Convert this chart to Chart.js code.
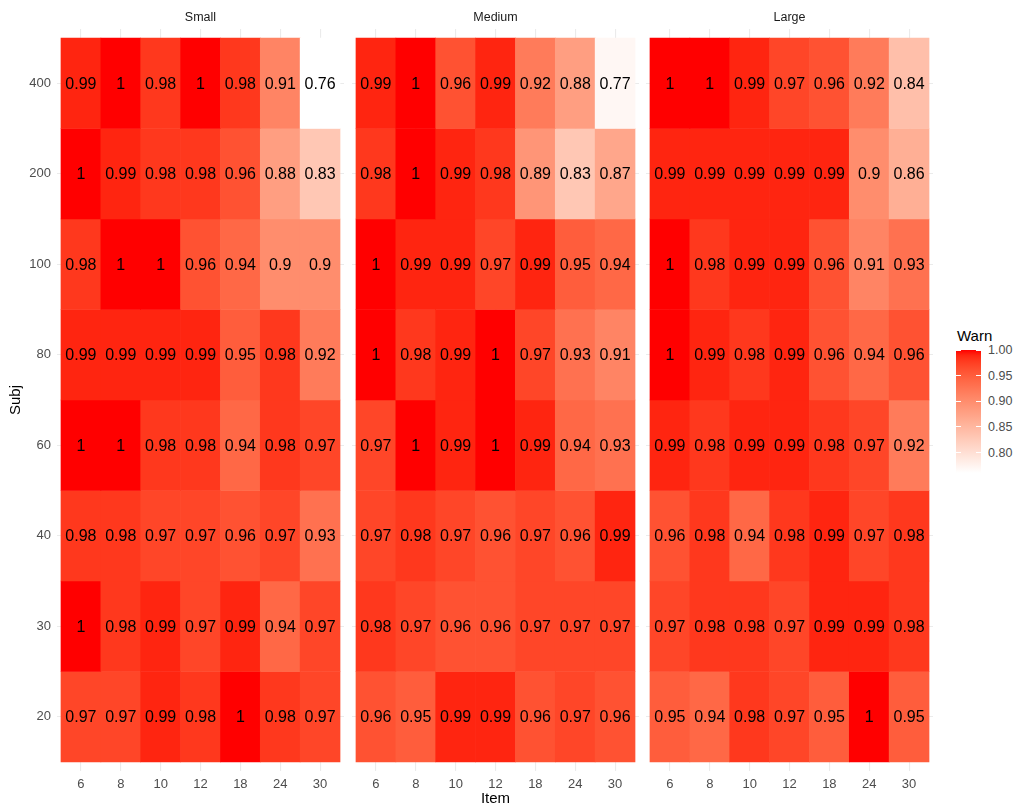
<!DOCTYPE html>
<html>
<head>
<meta charset="utf-8">
<script src="https://cdn.jsdelivr.net/npm/chart.js@4/dist/chart.umd.min.js"></script>
<style>
  html, body { margin: 0; padding: 0; background: #ffffff; }
  body { width: 1019px; height: 812px; position: relative; overflow: hidden;
         font-family: "Liberation Sans", Arial, sans-serif; }
  canvas { position: absolute; top: 0; }
  .lg { position: absolute; white-space: nowrap; }
  #legendTitle { left: 957px; top: 327px; font-size: 15px; line-height: 18px; color: #000; }
  #legendBar { left: 956px; top: 350px; width: 25px; height: 123px; }
  .lgTick { left: 988px; font-size: 12.5px; line-height: 14px; color: #4d4d4d; }
  .lgMark { position: absolute; width: 5px; height: 1px; background: #ffffff; }
</style>
</head>
<body>
<canvas id="panelSmall" width="344" height="812" style="left:0px"></canvas>
<canvas id="panelMedium" width="287" height="812" style="left:352px"></canvas>
<canvas id="panelLarge" width="287" height="812" style="left:646px"></canvas>
<div id="legendTitle" class="lg">Warn</div>
<div id="legendBar" class="lg"></div>

<script>
// Axis categories
const items = [6, 8, 10, 12, 18, 24, 30];
const subjects = [20, 30, 40, 60, 80, 100, 200, 400];   // bottom to top
const facets = ["Small", "Medium", "Large"];
const legendTicks = [0.80, 0.85, 0.90, 0.95, 1.00];

// Warn values, one row per subject (20 … 400), one column per item
const warnSmall = [
  [0.97, 0.97, 0.99, 0.98, 1,    0.98, 0.97],
  [1,    0.98, 0.99, 0.97, 0.99, 0.94, 0.97],
  [0.98, 0.98, 0.97, 0.97, 0.96, 0.97, 0.93],
  [1,    1,    0.98, 0.98, 0.94, 0.98, 0.97],
  [0.99, 0.99, 0.99, 0.99, 0.95, 0.98, 0.92],
  [0.98, 1,    1,    0.96, 0.94, 0.9,  0.9 ],
  [1,    0.99, 0.98, 0.98, 0.96, 0.88, 0.83],
  [0.99, 1,    0.98, 1,    0.98, 0.91, 0.76]
];
const warnMedium = [
  [0.96, 0.95, 0.99, 0.99, 0.96, 0.97, 0.96],
  [0.98, 0.97, 0.96, 0.96, 0.97, 0.97, 0.97],
  [0.97, 0.98, 0.97, 0.96, 0.97, 0.96, 0.99],
  [0.97, 1,    0.99, 1,    0.99, 0.94, 0.93],
  [1,    0.98, 0.99, 1,    0.97, 0.93, 0.91],
  [1,    0.99, 0.99, 0.97, 0.99, 0.95, 0.94],
  [0.98, 1,    0.99, 0.98, 0.89, 0.83, 0.87],
  [0.99, 1,    0.96, 0.99, 0.92, 0.88, 0.77]
];
const warnLarge = [
  [0.95, 0.94, 0.98, 0.97, 0.95, 1,    0.95],
  [0.97, 0.98, 0.98, 0.97, 0.99, 0.99, 0.98],
  [0.96, 0.98, 0.94, 0.98, 0.99, 0.97, 0.98],
  [0.99, 0.98, 0.99, 0.99, 0.98, 0.97, 0.92],
  [1,    0.99, 0.98, 0.99, 0.96, 0.94, 0.96],
  [1,    0.98, 0.99, 0.99, 0.96, 0.91, 0.93],
  [0.99, 0.99, 0.99, 0.99, 0.99, 0.9,  0.86],
  [1,    1,    0.99, 0.97, 0.96, 0.92, 0.84]
];

// ---- white -> red gradient interpolated in CIELAB ----
const WX = 0.95047, WY = 1.0, WZ = 1.08883;
function toLin(c) { c /= 255; return c <= 0.04045 ? c / 12.92 : Math.pow((c + 0.055) / 1.055, 2.4); }
function fromLin(c) {
  const v = c <= 0.0031308 ? 12.92 * c : 1.055 * Math.pow(c, 1 / 2.4) - 0.055;
  return Math.round(Math.max(0, Math.min(1, v)) * 255);
}
function rgbToLab(rgb) {
  const R = toLin(rgb[0]), G = toLin(rgb[1]), B = toLin(rgb[2]);
  const X = 0.4124564 * R + 0.3575761 * G + 0.1804375 * B;
  const Y = 0.2126729 * R + 0.7151522 * G + 0.0721750 * B;
  const Z = 0.0193339 * R + 0.1191920 * G + 0.9503041 * B;
  const f = t => t > 0.008856 ? Math.cbrt(t) : 7.787 * t + 16 / 116;
  const fx = f(X / WX), fy = f(Y / WY), fz = f(Z / WZ);
  return [116 * fy - 16, 500 * (fx - fy), 200 * (fy - fz)];
}
function labToRgb(lab) {
  const fy = (lab[0] + 16) / 116, fx = fy + lab[1] / 500, fz = fy - lab[2] / 200;
  const inv = t => (t * t * t > 0.008856 ? t * t * t : (t - 16 / 116) / 7.787);
  const X = WX * inv(fx), Y = WY * inv(fy), Z = WZ * inv(fz);
  const R = 3.2404542 * X - 1.5371385 * Y - 0.4985314 * Z;
  const G = -0.9692660 * X + 1.8760108 * Y + 0.0415560 * Z;
  const B = 0.0556434 * X - 0.2040259 * Y + 1.0572252 * Z;
  return [fromLin(R), fromLin(G), fromLin(B)];
}
const labLow = rgbToLab([255, 255, 255]);
const labHigh = rgbToLab([255, 0, 0]);
const allValues = [].concat(...warnSmall, ...warnMedium, ...warnLarge);
const vMin = Math.min(...allValues), vMax = Math.max(...allValues);
function warnColor(v) {
  const t = Math.max(0, Math.min(1, (v - vMin) / (vMax - vMin)));
  const lab = labLow.map((c, i) => c + (labHigh[i] - c) * t);
  const rgb = labToRgb(lab);
  return `rgb(${rgb[0]},${rgb[1]},${rgb[2]})`;
}

// ---- plugins ----
const FONT = '"Liberation Sans", Arial, sans-serif';

const cellLabels = {
  id: 'cellLabels',
  afterDatasetsDraw(chart) {
    const ctx = chart.ctx;
    const meta = chart.getDatasetMeta(0);
    const vals = chart.data.datasets[0].cellValues;
    ctx.save();
    ctx.font = '16px ' + FONT;
    ctx.fillStyle = '#000000';
    ctx.textAlign = 'center';
    ctx.textBaseline = 'middle';
    meta.data.forEach((el, i) => {
      ctx.fillText(String(vals[i]), el.x, (el.y + el.base) / 2 + 1);
    });
    ctx.restore();
  }
};

const stripLabel = {
  id: 'stripLabel',
  afterDraw(chart, args, opts) {
    const ctx = chart.ctx, a = chart.chartArea;
    ctx.save();
    ctx.font = '12.5px ' + FONT;
    ctx.fillStyle = '#1a1a1a';
    ctx.textAlign = 'center';
    ctx.textBaseline = 'middle';
    ctx.fillText(opts.text, (a.left + a.right) / 2, 17.5);
    ctx.restore();
  }
};

// ---- panels ----
function buildPanel(canvasId, title, rows, showY, showXTitle) {
  const points = [], colors = [], values = [];
  rows.forEach((row, r) => {
    row.forEach((v, c) => {
      points.push({ x: c + 1, y: [r + 0.5, r + 1.5] });
      colors.push(warnColor(v));
      values.push(v);
    });
  });

  new Chart(document.getElementById(canvasId), {
    type: 'bar',
    data: {
      datasets: [{
        data: points,
        cellValues: values,
        backgroundColor: colors,
        borderWidth: 0,
        grouped: false,
        barPercentage: 1,
        categoryPercentage: 1
      }]
    },
    options: {
      responsive: false,
      animation: false,
      events: [],
      layout: { padding: { top: 29, left: 0, right: 0, bottom: 0 } },
      plugins: {
        legend: { display: false },
        tooltip: { enabled: false },
        stripLabel: { text: title }
      },
      scales: {
        x: {
          type: 'linear', min: 0.4, max: 7.6, offset: false,
          afterBuildTicks: s => { s.ticks = items.map((_, i) => ({ value: i + 1 })); },
          afterFit: s => { s.height = 41; },
          ticks: {
            callback: v => String(items[Math.round(v) - 1]),
            font: { size: 13, family: FONT }, color: '#4d4d4d',
            padding: 6, maxRotation: 0, autoSkip: false
          },
          grid: { color: '#ebebeb', lineWidth: 1.1, drawTicks: false, offset: false },
          border: { display: false },
          title: {
            display: showXTitle, text: 'Item', color: '#000000',
            font: { size: 15, family: FONT }, padding: { top: 0, bottom: 4 }
          }
        },
        y: {
          type: 'linear', min: 0.4, max: 8.6,
          afterBuildTicks: s => { s.ticks = subjects.map((_, i) => ({ value: i + 1 })); },
          afterFit: s => { s.width = showY ? 57 : 0; },
          ticks: {
            display: showY,
            callback: v => String(subjects[Math.round(v) - 1]),
            font: { size: 13, family: FONT }, color: '#4d4d4d',
            padding: 6, autoSkip: false
          },
          grid: { color: '#ebebeb', lineWidth: 1.1, drawTicks: false },
          border: { display: false },
          title: {
            display: showY, text: 'Subj', color: '#000000',
            font: { size: 15, family: FONT }, padding: { top: 7, bottom: 0 }
          }
        }
      }
    },
    plugins: [cellLabels, stripLabel]
  });
}

buildPanel('panelSmall', facets[0], warnSmall, true, false);
buildPanel('panelMedium', facets[1], warnMedium, false, true);
buildPanel('panelLarge', facets[2], warnLarge, false, false);

// ---- colour bar legend ----
(function () {
  const barTop = 350, barH = 123, barLeft = 956, barW = 25;
  const bar = document.getElementById('legendBar');
  const stops = [];
  for (let i = 0; i <= 24; i++) {
    const v = vMax - (vMax - vMin) * i / 24;
    stops.push(`${warnColor(v)} ${(i / 24 * 100).toFixed(2)}%`);
  }
  bar.style.background = `linear-gradient(to bottom, ${stops.join(', ')})`;
  const yOf = v => barTop + (vMax - v) / (vMax - vMin) * barH;
  legendTicks.forEach(t => {
    const y = yOf(t);
    const lab = document.createElement('div');
    lab.className = 'lg lgTick';
    lab.textContent = t.toFixed(2);
    lab.style.top = (y - 6.8) + 'px';
    document.body.appendChild(lab);
    [barLeft, barLeft + barW - 5].forEach(x => {
      const m = document.createElement('div');
      m.className = 'lgMark';
      m.style.left = x + 'px';
      m.style.top = (y - 0.5) + 'px';
      document.body.appendChild(m);
    });
  });
})();
</script>
</body>
</html>
